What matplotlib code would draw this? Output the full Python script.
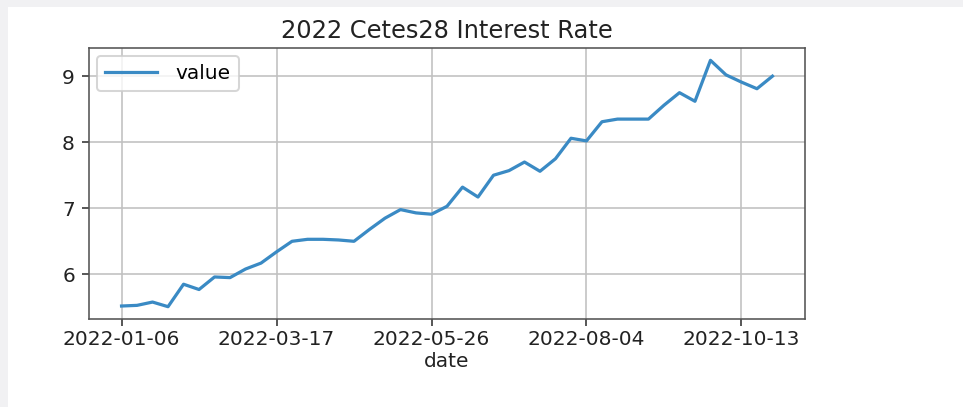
import matplotlib.pyplot as plt
from matplotlib.patches import Rectangle
import pandas as pd

# weekly Cetes 28 auction rate, 2022
dates = pd.date_range("2022-01-06", periods=43, freq="7D").strftime("%Y-%m-%d").tolist()
values = [5.52, 5.53, 5.58, 5.51, 5.85, 5.77, 5.96, 5.95, 6.08, 6.17,
          6.34, 6.50, 6.53, 6.53, 6.52, 6.50, 6.68, 6.85, 6.98, 6.93,
          6.91, 7.03, 7.32, 7.17, 7.50, 7.57, 7.70, 7.56, 7.75, 8.06,
          8.02, 8.31, 8.35, 8.35, 8.35, 8.56, 8.75, 8.62, 9.24, 9.02,
          8.91, 8.81, 9.00]
yticks = [6, 7, 8, 9]

DPI = 145
fig = plt.figure(figsize=(963 / DPI, 407 / DPI), dpi=DPI)
fig.patch.set_facecolor("#f1f1f3")
# white page area of the screenshot
fig.patches.append(Rectangle((8 / 963, 0), 1, 1 - 7 / 407, transform=fig.transFigure,
                             facecolor="white", edgecolor="none", zorder=-1))

ax = fig.add_axes([89 / 963, 88 / 407, 716 / 963, 271 / 407])
ax.plot(dates, values, color="#3a8ac4", lw=1.6, label="value")

ax.set_xticks(dates[::10])
ax.set_yticks(yticks)
ax.tick_params(colors="#333333", labelcolor="#222222")
ax.tick_params(axis="x", pad=2)
ax.set_title("2022 Cetes28 Interest Rate", color="#222222", pad=5)
ax.set_xlabel("date", color="#222222", labelpad=1.5)
ax.grid(True, color="#c0c0c0")
for s in ax.spines.values():
    s.set_color("#555555")
ax.legend(loc="upper left", handlelength=2.6, handletextpad=0.9, borderaxespad=0.4)

fig.savefig("out.png", dpi=DPI)
